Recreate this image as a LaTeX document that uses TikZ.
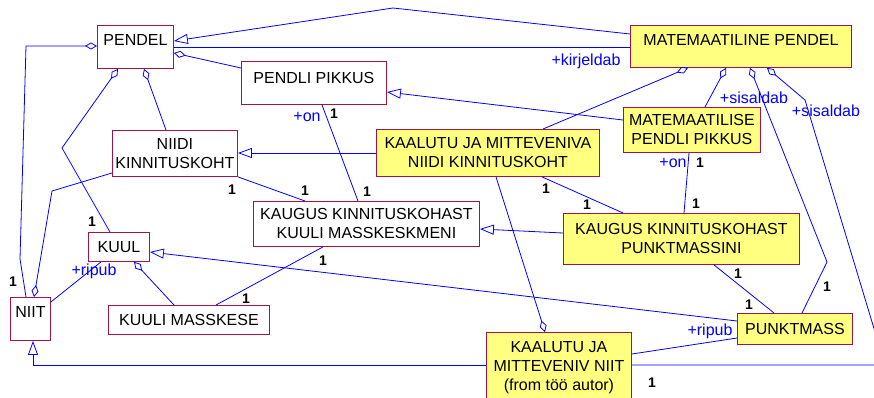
\documentclass[tikz,border=0pt]{standalone}
\usepackage{fontspec}
\setmainfont{Liberation Sans}
\usetikzlibrary{arrows.meta}
\definecolor{linkblue}{RGB}{0,0,255}
\definecolor{classedge}{RGB}{160,20,70}
\definecolor{classfill}{RGB}{255,255,128}

\begin{document}
\begin{tikzpicture}[x=1pt,y=-1pt,
  every node/.style={font=\fontsize{16}{19}\selectfont},
  cls/.style={draw=classedge, line width=0.9pt, fill=white, inner sep=0pt,
    anchor=north west, align=center},
  impl/.style={cls, fill=classfill},
  raised/.style={text height=11.5pt, text depth=#1},
  link/.style={draw=linkblue, line width=0.8pt},
  gen/.style={link, -{Triangle[open, length=14pt, width=10pt]}},
  aggS/.style={link, {Diamond[open, length=12pt, width=7pt]}-},
  aggE/.style={link, -{Diamond[open, length=12pt, width=7pt]}},
  role/.style={text=linkblue, inner sep=0pt},
  mult/.style={font=\fontsize{14}{16}\selectfont\bfseries, inner sep=0pt},
]
\useasboundingbox (0,0) rectangle (874,398);
\clip (0,0) rectangle (874,398);

% ---- classes ----
\node[cls, raised=14pt, minimum width=76pt, minimum height=43pt] (pendel) at (97,25) {PENDEL};
\node[cls, raised=11pt, minimum width=145pt, minimum height=43pt] (pikkus) at (241,61) {PENDLI PIKKUS};
\node[cls, minimum width=125pt, minimum height=46pt] (niidi) at (112,130) {NIIDI\\KINNITUSKOHT};
\node[impl, minimum width=223pt, minimum height=47pt] (kniidi) at (376,129) {KAALUTU JA MITTEVENIVA\\NIIDI KINNITUSKOHT};
\node[impl, raised=13pt, minimum width=221pt, minimum height=42pt] (mpendel) at (630,25) {MATEMAATILINE PENDEL};
\node[impl, minimum width=137pt, minimum height=45pt] (mpikkus) at (623,107) {MATEMAATILISE\\PENDLI PIKKUS};
\node[cls, minimum width=226pt, minimum height=45pt] (kmass) at (253,201) {KAUGUS KINNITUSKOHAST\\KUULI MASSKESKMENI};
\node[impl, minimum width=236pt, minimum height=51pt] (kpunkt) at (563,213) {KAUGUS KINNITUSKOHAST\\PUNKTMASSINI};
\node[cls, minimum width=61pt, minimum height=29pt] (kuul) at (88,232) {KUUL};
\node[cls, raised=14pt, minimum width=40pt, minimum height=43pt] (niit) at (10,297) {NIIT};
\node[cls, minimum width=161pt, minimum height=29pt] (masskese) at (108,305) {KUULI MASSKESE};
\node[impl, minimum width=115pt, minimum height=31pt] (punktmass) at (737,313) {PUNKTMASS};
\node[impl, minimum width=145pt, minimum height=70pt] (knit) at (486,332) {KAALUTU JA\\MITTEVENIV NIIT\\(from töö autor)};

% ---- generalisations ----
\draw[gen] (mpendel.west |- 0,34) -- (393,8) -- (pendel.east |- 0,41);
\draw[gen] (mpikkus.west |- 0,120) -- (pikkus.east |- 0,92);
\draw[gen] (kniidi.west |- 0,153) -- (niidi.east |- 0,153);
\draw[gen] (kpunkt.west |- 0,233) -- (kmass.east |- 0,229);
\draw[gen] (punktmass.west |- 0,321) -- (kuul.east |- 0,252);
\draw[gen] (knit.west |- 0,365) -- (33,365) -- (niit.south -| 33,0);

% ---- aggregations ----
\draw[aggS] (pendel.east |- 0,53) -- (pikkus.west |- 0,68);
\draw[aggS] (pendel.south -| 144,0) -- (niidi.north -| 166,0);
\draw[aggS] (pendel.south -| 118,0) -- (62,148) -- (kuul.north -| 110,0);
\draw[aggS] (pendel.west |- 0,46) -- (26,46) -- (20,259) -- (niit.north -| 26,0);
\draw[aggE] (niidi.west |- 0,173) -- (52,191) -- (niit.north -| 34,0);
\draw[aggS] (kuul.south -| 134,0) -- (masskese.north -| 174,0);
\draw[aggS] (mpendel.south -| 688,0) -- (kniidi.north -| 543,0);
\draw[aggS] (mpendel.south -| 726,0) -- (mpikkus.north -| 705,0);
\draw[aggS] (mpendel.south -| 750,0) -- (827,262) -- (punktmass.north -| 802,0);
\draw[aggS] (mpendel.south -| 767,0) -- (805,100) -- (885,365) -- (knit.east |- 0,365);
\draw[aggE] (kniidi.south -| 496,0) -- (knit.north -| 545,0);

% ---- associations ----
\draw[link] (pendel.east |- 0,47) -- (mpendel.west |- 0,47);
\draw[link] (niidi.south east) -- (kmass.north -| 305,0);
\draw[link] (pikkus.south -| 322,0) -- (kmass.north -| 358,0);
\draw[link] (kuul.south -| 101,0) -- (niit.east |- 0,302);
\draw[link] (kmass.south -| 323,0) -- (masskese.north -| 216,0);
\draw[link] (mpikkus.south -| 689,0) -- (kpunkt.north -| 684,0);
\draw[link] (kniidi.south -| 542,0) -- (kpunkt.north -| 623,0);
\draw[link] (kpunkt.south -| 714,0) -- (punktmass.north -| 774,0);
\draw[link] (knit.east |- 0,354) -- (punktmass.west |- 0,338);

% ---- role names ----
\node[role] (r1) at (586,61) {+kirjeldab};
\node[role] (r2) at (307,117) {+on};
\node[role] (r3) at (673,163) {+on};
\node[role] (r4) at (754,98) {+sisaldab};
\node[role] (r5) at (826,111) {+sisaldab};
\node[role] (r6) at (94,271) {+ripub};
\node[role] (r7) at (710,331) {+ripub};

% ---- multiplicities ----
\node[mult] (m1) at (334,114) {1};
\node[mult] (m2) at (232,190) {1};
\node[mult] (m3) at (305,191) {1};
\node[mult] (m4) at (367,192) {1};
\node[mult] (m5) at (92,222) {1};
\node[mult] (m6) at (13,282) {1};
\node[mult] (m7) at (323,261) {1};
\node[mult] (m8) at (246,299) {1};
\node[mult] (m9) at (700,163) {1};
\node[mult] (m10) at (546,189) {1};
\node[mult] (m11) at (587,205) {1};
\node[mult] (m12) at (696,204) {1};
\node[mult] (m13) at (738,274) {1};
\node[mult] (m14) at (749,305) {1};
\node[mult] (m15) at (827,287) {1};
\node[mult] (m16) at (652,383) {1};
\end{tikzpicture}
\end{document}
